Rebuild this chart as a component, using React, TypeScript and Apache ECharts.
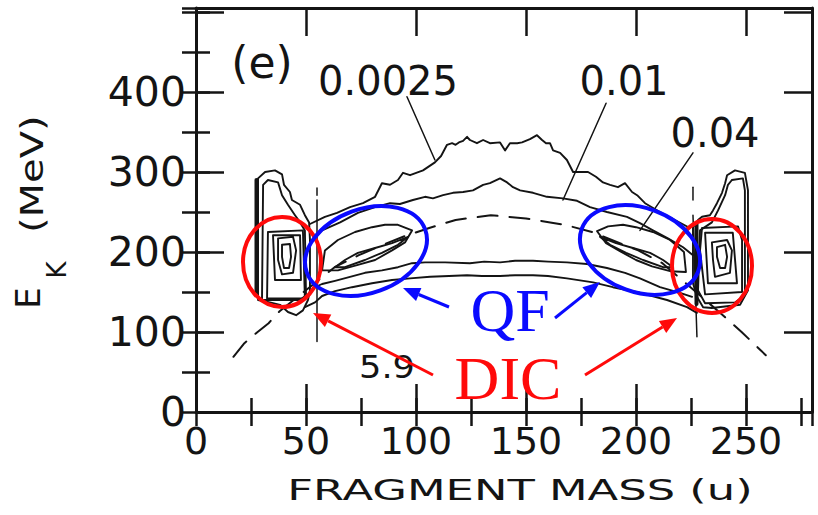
import React, { useEffect, useRef } from "react";
import * as echarts from "echarts";

// ---- axis ticks ----
const xTickLabels = [0, 50, 100, 150, 200, 250];
const yTickLabels = [0, 100, 200, 300, 400];

// ---- contour 0.0025 (fragment mass u, kinetic energy MeV) ----
const c0025Top = [
  [51.8, 235], [58.6, 244], [64.1, 249], [70, 256], [75.9, 261], [81.4, 269], [84.5, 286],
  [88.2, 284], [91.8, 290], [94.1, 299], [97.3, 296], [103.2, 302], [108.6, 312], [111.4, 320],
  [114.1, 334], [116.4, 336], [118, 334], [119.5, 337], [121.4, 339], [123.2, 344], [124.5, 340],
  [127.7, 336], [130.5, 340], [133.6, 336], [138.2, 337], [140.5, 327], [142.7, 336], [146, 336],
  [148.2, 337], [151.8, 341], [155, 346], [157.3, 340], [159.1, 336], [160.9, 336], [162.3, 327],
  [165.5, 324], [168.6, 315], [171.4, 300], [174.5, 300], [178.2, 300], [181.8, 294], [185, 287],
  [188.2, 284], [191.8, 281], [195, 286], [198.2, 275], [200.5, 271], [204.1, 261], [210.9, 250],
  [217.7, 240], [224.5, 230],
];
const c0025Bottom = [
  [49.5, 131], [54.1, 137], [57.3, 145], [63.2, 151], [70.9, 156], [80, 161], [89.1, 165],
  [97.3, 167], [106.4, 169], [115, 170], [123.2, 171], [130, 170], [138.2, 170], [145, 171],
  [153.2, 171], [160, 170], [168.6, 167], [180.5, 162], [189.5, 156], [201.8, 149], [214.1, 140],
  [223.2, 131], [227.7, 124],
];

// ---- contour 0.01 ----
const c01Top = [
  [52.7, 215], [57.3, 227], [65.5, 237], [73.6, 249], [81.4, 256], [88.2, 261], [92.7, 260],
  [98.6, 265], [104.1, 269], [107.7, 267], [112.3, 271], [116.8, 274], [121.4, 275], [125.9, 277],
  [130.5, 284], [133.6, 286], [138.2, 292], [141.4, 287], [144.1, 281], [147.3, 277], [153.2, 274],
  [159.5, 269], [166.8, 267], [173.2, 264], [179.1, 256], [186.8, 250], [195.9, 244], [201.8, 236],
  [207.7, 227], [214.5, 217], [221.4, 206], [225.9, 196],
];
const c01Bottom = [
  [53.2, 155], [57.3, 160], [63.2, 164], [70, 169], [76.8, 174], [84.5, 177], [91.8, 181],
  [98.2, 186], [104.1, 187], [113.2, 187], [124.5, 186], [131, 188], [138.2, 187], [145, 189],
  [153.2, 189], [160, 188], [168.6, 187], [177.7, 185], [186.8, 180], [195, 174], [201.8, 167],
  [210.9, 156], [220, 149], [225.5, 144],
];

// ---- quasi-fission ridges (0.04 and inner) ----
const qfLeftOuter = [
  [57.3, 177], [58.6, 202], [64.5, 215], [72.3, 225], [80, 231], [85.9, 234], [91.8, 234],
  [98.2, 227], [95, 212], [89.1, 202], [81.4, 190], [73.6, 184], [64.5, 177], [57.3, 177],
];
const qfLeftInner = [
  [63.2, 181], [67.7, 190], [73.6, 199], [81.4, 205], [89.1, 211], [96.4, 219], [91.8, 209],
  [84.5, 199], [76.8, 190], [67.7, 181], [63.2, 181],
];
const qfRightOuter = [
  [222.7, 175], [221.8, 200], [215.5, 215], [207.7, 225], [200, 231], [194.1, 234], [187.3, 232],
  [182.3, 226], [186.4, 211], [192.7, 201], [200, 190], [207.3, 182], [215.5, 176], [222.7, 175],
];
const qfRightInner = [
  [216.8, 181], [212.3, 190], [206.4, 199], [198.6, 205], [190.9, 211], [183.6, 219], [188.2, 209],
  [195.5, 199], [203.2, 190], [212.3, 181], [216.8, 181],
];

// ---- deep-inelastic islands, light side ----
const dicLeftEdge = [[27.5, 150], [27.5, 290]];
const dicLeft1 = [
  [28.2, 140], [28.2, 292], [31.4, 300], [35.9, 302], [39.1, 297], [40, 284], [42.7, 275],
  [43.6, 265], [47.3, 259], [49.5, 246], [51.4, 237], [51.8, 215], [51.8, 152], [50.9, 140],
  [48.6, 127], [45.5, 121], [41.8, 125], [38.2, 134], [33.6, 137], [28.2, 140],
];
const dicLeft2 = [
  [30, 140], [30.5, 284], [32.7, 290], [37.3, 287], [39.1, 271], [41.8, 259], [45, 246],
  [47.3, 237], [49.5, 227], [50, 146], [47.3, 140], [30, 140],
];
const dicLeft3 = [[32.7, 225], [48.6, 227], [49.5, 142], [32.3, 142], [32.7, 225]];
const dicLeft4 = [[35, 221], [47.3, 221], [47.7, 165], [35.9, 165], [35, 221]];
const dicLeft5 = [[37.3, 217], [44.1, 219], [45.5, 202], [44.1, 174], [39.1, 172], [37.3, 190], [37.3, 217]];
const dicLeft6 = [[39.1, 209], [42.7, 210], [43.2, 194], [42.3, 180], [40, 180], [39.1, 194], [39.1, 209]];

// ---- deep-inelastic islands, heavy side ----
const dicRightEdge = [[227.5, 135], [227.5, 235]];
const dicRight1 = [
  [250.9, 152], [250.9, 277], [249.5, 299], [245, 302], [241.4, 296], [240.5, 286], [239.1, 274],
  [236.8, 261], [235, 252], [233.6, 246], [230, 244], [228.2, 240], [225.9, 231], [225.9, 161],
  [227.7, 144], [230.5, 131], [234.5, 130], [247.3, 134], [250.9, 152],
];
const dicRight2 = [
  [243.6, 290], [248.6, 292], [249.5, 277], [249.5, 146], [245, 137], [231.4, 136], [228.2, 152],
  [229.1, 227], [234.5, 237], [237.3, 252], [240.5, 271], [241.8, 284], [243.6, 290],
];
const dicRight3 = [[230, 230], [246.4, 232], [248.2, 215], [248.2, 150], [231.4, 147], [229.1, 202], [230, 230]];
const dicRight4 = [[231.4, 224], [244, 224], [245.9, 161], [232.7, 161], [231.4, 224]];
const dicRight5 = [[234.5, 212], [241.4, 215], [243.6, 202], [242.7, 174], [235.9, 169], [235, 190], [234.5, 212]];
const dicRight6 = [[236.8, 206], [240.5, 209], [241.4, 194], [240.5, 180], [238.2, 180], [236.8, 194], [236.8, 206]];

// ---- dashed systematics curve ----
const systematics = [
  [17, 69], [22, 86], [28, 100], [33, 111], [38, 126], [63, 181], [74, 196], [85, 209], [95, 220],
  [106, 230], [118, 240], [134, 246], [150, 242], [161, 237], [169, 233], [180, 225], [189, 215],
  [201, 202], [212, 186], [237, 127], [248, 100], [259, 71],
];

// ---- vertical mass cuts ----
const cutLeftTop = [[55, 280], [55, 271]];
const cutLeft = [[55, 265], [55, 88]];
const cutRightTop = [[225.9, 281], [225.9, 265]];
const cutRight = [[225.9, 246], [227.7, 94]];

// ---- leader lines for contour levels ----
const leader0025 = [[95.9, 394], [108.6, 315]];
const leader01 = [[186.4, 386], [166.8, 265]];
const leader04 = [[225.9, 324], [201.8, 227]];

const INK = "#141414";
const BLUE = "#0a0aff";
const RED = "#ff0a0a";
const FONT = '"DejaVu Sans", "Liberation Sans", sans-serif';
const SERIF = '"Liberation Serif", "DejaVu Serif", serif';

const line = (data: number[][], width = 1.9, dash?: number[]) => ({
  type: "line",
  data,
  symbol: "none",
  showSymbol: false,
  silent: true,
  clip: true,
  z: 3,
  lineStyle: { color: INK, width, type: dash ? dash : "solid", cap: "round", join: "round" },
});

function arrow(tail: number[], tip: number[], color: string, width: number) {
  const dx = tip[0] - tail[0];
  const dy = tip[1] - tail[1];
  const len = Math.hypot(dx, dy);
  const ux = dx / len;
  const uy = dy / len;
  const hl = 17;
  const hw = 7;
  const bx = tip[0] - ux * hl;
  const by = tip[1] - uy * hl;
  return [
    { type: "line", z: 100, shape: { x1: tail[0], y1: tail[1], x2: bx, y2: by }, style: { stroke: color, lineWidth: width } },
    {
      type: "polygon",
      z: 100,
      shape: { points: [tip, [bx - uy * hw, by + ux * hw], [bx + uy * hw, by - ux * hw]] },
      style: { fill: color },
    },
  ];
}

const ring = (cx: number, cy: number, rx: number, ry: number, rotation: number, color: string) => ({
  type: "ellipse",
  z: 100,
  x: cx,
  y: cy,
  rotation,
  shape: { cx: 0, cy: 0, rx, ry },
  style: { fill: "none", stroke: color, lineWidth: 4 },
});

const label = (text: string, x: number, y: number, size: number, opts: any = {}) => ({
  type: "text",
  z: 100,
  x,
  y,
  rotation: opts.rotation || 0,
  scaleX: opts.scaleX || 1,
  style: {
    text,
    fontSize: size,
    fontFamily: opts.family || FONT,
    fontWeight: opts.weight || "normal",
    fill: opts.color || INK,
    align: opts.align || "center",
    verticalAlign: "middle",
    textAlign: opts.align || "center",
    textVerticalAlign: "middle",
  },
});

export default function App() {
  const ref = useRef<HTMLDivElement>(null);

  useEffect(() => {
    if (!ref.current) return;
    const chart = echarts.init(ref.current, undefined, { renderer: "svg" });

    const tickStyle = { color: INK, width: 2.5 };
    const frame = { show: true, onZero: false, lineStyle: { color: INK, width: 3 } };
    const xBase = { type: "value", min: 0, max: 280, splitLine: { show: false } };
    const yBase = { type: "value", min: 0, max: 505, splitLine: { show: false } };

    chart.setOption({
      animation: false,
      backgroundColor: "#ffffff",
      grid: { left: 196, right: 6, top: 8, bottom: 103, containLabel: false },
      xAxis: [
        {
          ...xBase,
          position: "bottom",
          interval: 50,
          axisLine: frame,
          axisTick: { inside: true, length: 28, lineStyle: tickStyle },
          axisLabel: {
            margin: 10,
            fontSize: 38,
            fontFamily: FONT,
            color: INK,
            formatter: (v: number) => (xTickLabels.includes(v) ? String(v) : ""),
          },
        },
        {
          ...xBase,
          position: "bottom",
          interval: 25,
          axisLine: { show: false },
          axisTick: { inside: true, length: 14, lineStyle: tickStyle },
          axisLabel: { show: false },
        },
        {
          ...xBase,
          position: "top",
          interval: 50,
          axisLine: frame,
          axisTick: { inside: true, length: 28, lineStyle: tickStyle },
          axisLabel: { show: false },
        },
        {
          ...xBase,
          position: "top",
          interval: 25,
          axisLine: { show: false },
          axisTick: { inside: true, length: 14, lineStyle: tickStyle },
          axisLabel: { show: false },
        },
      ],
      yAxis: [
        {
          ...yBase,
          position: "left",
          interval: 100,
          axisLine: frame,
          axisTick: { inside: true, length: 28, lineStyle: tickStyle },
          axisLabel: {
            margin: 10,
            fontSize: 41,
            fontFamily: FONT,
            color: INK,
            padding: [10, 0, 0, 0],
            formatter: (v: number) => (yTickLabels.includes(v) ? String(v) : ""),
          },
        },
        {
          ...yBase,
          position: "left",
          interval: 50,
          axisLine: { show: false },
          axisTick: { inside: true, length: 14, lineStyle: tickStyle },
          axisLabel: { show: false },
        },
        {
          ...yBase,
          position: "right",
          interval: 100,
          axisLine: frame,
          axisTick: { inside: true, length: 28, lineStyle: tickStyle },
          axisLabel: { show: false },
        },
        {
          ...yBase,
          position: "right",
          interval: 50,
          axisLine: { show: false },
          axisTick: { inside: true, length: 14, lineStyle: tickStyle },
          axisLabel: { show: false },
        },
      ],
      series: [
        line(systematics, 2, [20, 12]),
        line(c0025Top),
        line(c0025Bottom),
        line(c01Top),
        line(c01Bottom),
        line(qfLeftOuter),
        line(qfLeftInner),
        line(qfRightOuter),
        line(qfRightInner),
        line(dicLeftEdge, 4),
        line(dicLeft1),
        line(dicLeft2),
        line(dicLeft3),
        line(dicLeft4),
        line(dicLeft5),
        line(dicLeft6),
        line(dicRightEdge, 4),
        line(dicRight1),
        line(dicRight2),
        line(dicRight3),
        line(dicRight4),
        line(dicRight5),
        line(dicRight6),
        line(cutLeftTop, 1.5),
        line(cutLeft, 1.5),
        line(cutRightTop, 1.5),
        line(cutRight, 1.5),
        line(leader0025, 1.5),
        line(leader01, 1.5),
        line(leader04, 1.5),
      ],
      graphic: [
        // axis titles
        label("FRAGMENT MASS (u)", 520, 490, 28, { scaleX: 1.6 }),
        label("E", 28, 298, 34, { rotation: Math.PI / 2 }),
        label("K", 57, 270, 26, { rotation: Math.PI / 2 }),
        label("(MeV)", 32, 233, 32, { rotation: Math.PI / 2, scaleX: 1.25, align: "left" }),
        // panel tag and contour levels
        label("(e)", 262, 62, 44),
        label("0.0025", 388, 81, 40),
        label("0.01", 624, 81, 40),
        label("0.04", 715, 133, 40),
        label("5.9", 387, 367, 32, { scaleX: 1.1 }),
        // QF / DIC annotations
        ring(282, 262, 39, 45, 0, RED),
        ring(712, 266, 40, 47, 0, RED),
        ring(366, 251, 63, 42, 0.35, BLUE),
        ring(640, 250, 62, 42, -0.35, BLUE),
        ...arrow([449, 307], [403, 288], BLUE, 3),
        ...arrow([555, 318], [600, 282], BLUE, 3),
        ...arrow([433, 375], [313, 313], RED, 3),
        ...arrow([585, 375], [677, 318], RED, 3),
        label("QF", 510, 310, 62, { family: SERIF, color: BLUE }),
        label("DIC", 508, 378, 62, { family: SERIF, color: RED }),
      ],
    });

    return () => chart.dispose();
  }, []);

  return (
    <div
      ref={ref}
      style={{ position: "fixed", left: 0, top: 0, width: 818, height: 515, background: "#fff" }}
    />
  );
}
